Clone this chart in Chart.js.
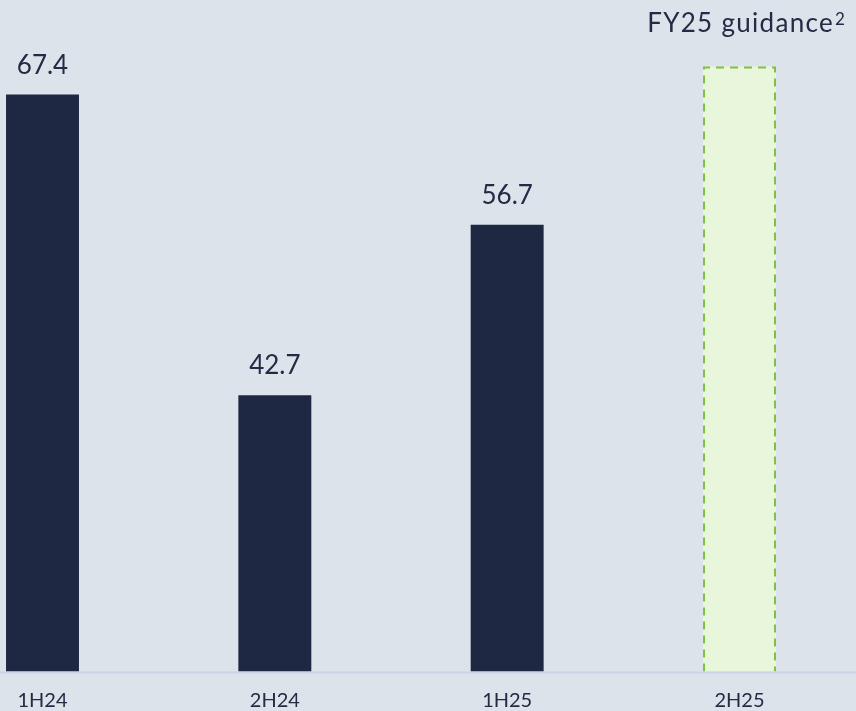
<!DOCTYPE html>
<html>
<head>
<meta charset="utf-8">
<script src="https://cdn.jsdelivr.net/npm/chart.js@4.4.1/dist/chart.umd.min.js"></script>
<style>
  html, body { margin: 0; padding: 0; background: #dde3eb; }
  #wrap { width: 856px; height: 711px; position: relative; }
</style>
</head>
<body>
<div id="wrap"><canvas id="chart"></canvas></div>
<script>
// data
const categories = ['1H24', '2H24', '1H25', '2H25'];
const values = [67.4, 42.7, 56.7, 69.7];
const valueLabels = ['67.4', '42.7', '56.7', ''];
const guidanceTitle = 'FY25 guidance';
const guidanceNote = '2';
const yMin = 20;
const yMax = 75;

const navy = '#1f2842';
const textColor = '#232b45';
const guideFill = '#e8f6dc';
const guideLine = '#7fc043';

// fond de page
const bgPlugin = {
    id: 'bg',
    beforeDraw: chart => {
        const ctx = chart.ctx;
        ctx.save();
        ctx.fillStyle = '#dde3eb';
        ctx.fillRect(0, 0, chart.width, chart.height);
        ctx.restore();
    }
};

// trait de base + bord pointillé + étiquettes
const drawPlugin = {
    id: 'extras',
    afterDatasetsDraw: chart => {
        const ctx = chart.ctx;
        const meta = chart.getDatasetMeta(0);
        const yBase = chart.scales.y.getPixelForValue(yMin);
        ctx.save();

        // dashed outline for the guidance bar
        const g = meta.data[3].getProps(['x', 'y', 'base', 'width'], true);
        ctx.strokeStyle = guideLine;
        ctx.lineWidth = 2;
        ctx.setLineDash([8, 6]);
        ctx.beginPath();
        ctx.moveTo(g.x - g.width / 2 + 1, g.base);
        ctx.lineTo(g.x - g.width / 2 + 1, g.y + 1);
        ctx.lineTo(g.x + g.width / 2 - 1, g.y + 1);
        ctx.lineTo(g.x + g.width / 2 - 1, g.base);
        ctx.stroke();
        ctx.setLineDash([]);

        // baseline across the full width
        ctx.strokeStyle = '#ccd4e5';
        ctx.lineWidth = 2;
        ctx.beginPath();
        ctx.moveTo(0, yBase + 1);
        ctx.lineTo(chart.width, yBase + 1);
        ctx.stroke();

        // value labels
        ctx.fillStyle = textColor;
        ctx.font = '26px Lato';
        ctx.textAlign = 'center';
        ctx.textBaseline = 'alphabetic';
        meta.data.forEach((bar, i) => {
            if (!valueLabels[i]) return;
            ctx.fillText(valueLabels[i], bar.x, bar.y - 21);
        });

        // guidance title, note en exposant
        ctx.textAlign = 'right';
        ctx.letterSpacing = '1.3px';
        ctx.fillText(guidanceTitle, chart.width - 22, 32);
        ctx.letterSpacing = '0px';
        ctx.textAlign = 'left';
        ctx.font = '17px Lato';
        ctx.fillText(guidanceNote, chart.width - 21, 25);
        ctx.restore();
    }
};

const ctx = document.getElementById('chart').getContext('2d');
const chart = new Chart(ctx, {
    type: 'bar',
    plugins: [bgPlugin, drawPlugin],
    data: {
        labels: categories,
        datasets: [{
            // barres flottantes posées sur le bas de l'axe
            data: values.map(v => [yMin, v]),
            backgroundColor: [navy, navy, navy, guideFill],
            borderWidth: 0,
            categoryPercentage: 1,
            barPercentage: 0.314,
            clip: false
        }]
    },
    options: {
        responsive: true,
        maintainAspectRatio: false,
        animation: false,
        layout: {
            padding: { left: 42.5, right: 116.5, top: 2, bottom: -18.5 }
        },
        plugins: {
            legend: { display: false },
            tooltip: { enabled: false }
        },
        scales: {
            x: {
                offset: false,
                grid: { display: false, drawTicks: false },
                border: { display: false },
                ticks: {
                    color: textColor,
                    font: { family: 'Lato', size: 20 },
                    padding: 17,
                    maxRotation: 0,
                    autoSkip: false
                }
            },
            y: {
                display: false,
                min: yMin,
                max: yMax
            }
        }
    }
});
</script>
</body>
</html>
